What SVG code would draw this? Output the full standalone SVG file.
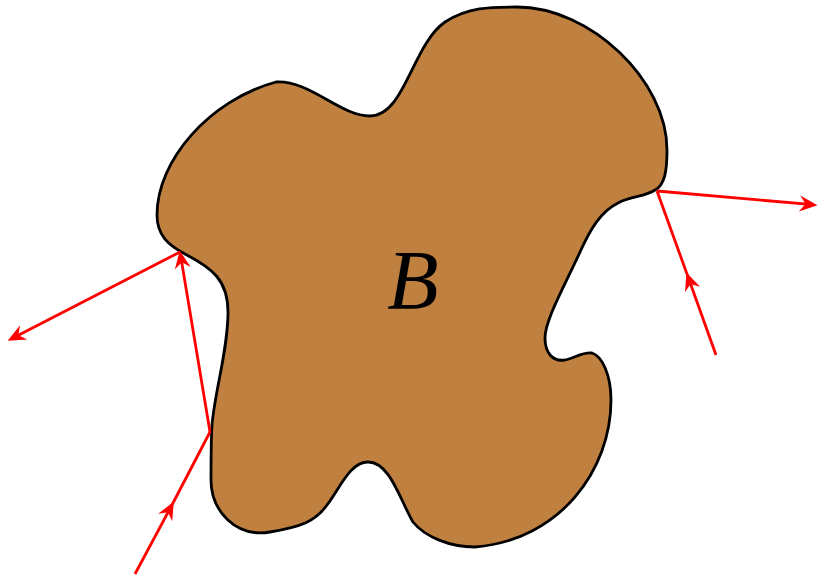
<svg xmlns="http://www.w3.org/2000/svg" width="819" height="577" viewBox="0 0 819 577">
<style>
.body{fill:#C08040;stroke:#000;stroke-width:2.8;stroke-linejoin:round}
.ray{fill:none;stroke:#FF0000;stroke-width:2.8}
.head{fill:#FF0000}
.lbl{font-family:"Liberation Serif","DejaVu Serif",serif;font-style:italic;font-size:84px;fill:#000}
</style>
<defs>
<path id="ah" class="head" d="M1.5,0 L-16.5,-8 L-10.5,0 L-16.5,8 Z"/>
</defs>
<rect width="819" height="577" fill="#fff"/>
<g id="B">
<path class="body" d="M157,215 C157,160 210,100 276,82 C310,80 340,116 370,116 C405,116 412,45 445,22 C468,7 490,7 517,7 C590,7 667,80 667,150 C667,170 665,185 655,190 C645,197 630,196 618,203 C600,212 590,230 580,252 C565,285 545,320 545,338 C545,352 552,362 565,360 C575,358 582,352 592,353 C602,356 611,375 611,400 C611,470 560,540 475,547 C450,547 425,537 413,522 C400,500 390,462 368,462 C350,462 340,488 327,505 C315,522 300,527 270,532 C235,538 211,510 211,480 C211,460 211,440 212,425 C215,390 228,350 228,312 C228,280 212,268 185,254 C168,245 157,235 157,215 Z"/>
<text class="lbl" x="413" y="309" text-anchor="middle">B</text>
</g>
<g id="connectors">
<line class="ray" x1="135" y1="574" x2="173" y2="503"/>
<line class="ray" x1="173" y1="503" x2="210" y2="432"/>
<line class="ray" x1="210" y1="432" x2="180.5" y2="255"/>
<line class="ray" x1="180" y1="252" x2="12" y2="338.5"/>
<line class="ray" x1="716" y1="355" x2="687" y2="274"/>
<line class="ray" x1="687" y1="274" x2="657" y2="191"/>
<line class="ray" x1="657" y1="191" x2="813" y2="204.7"/>
<use href="#ah" transform="translate(173,503) rotate(-61.8)"/>
<use href="#ah" transform="translate(180,252) rotate(-99.5)"/>
<use href="#ah" transform="translate(9,340) rotate(152.8)"/>
<use href="#ah" transform="translate(687,274) rotate(-109.7)"/>
<use href="#ah" transform="translate(816,205) rotate(5)"/>
</g>
</svg>
